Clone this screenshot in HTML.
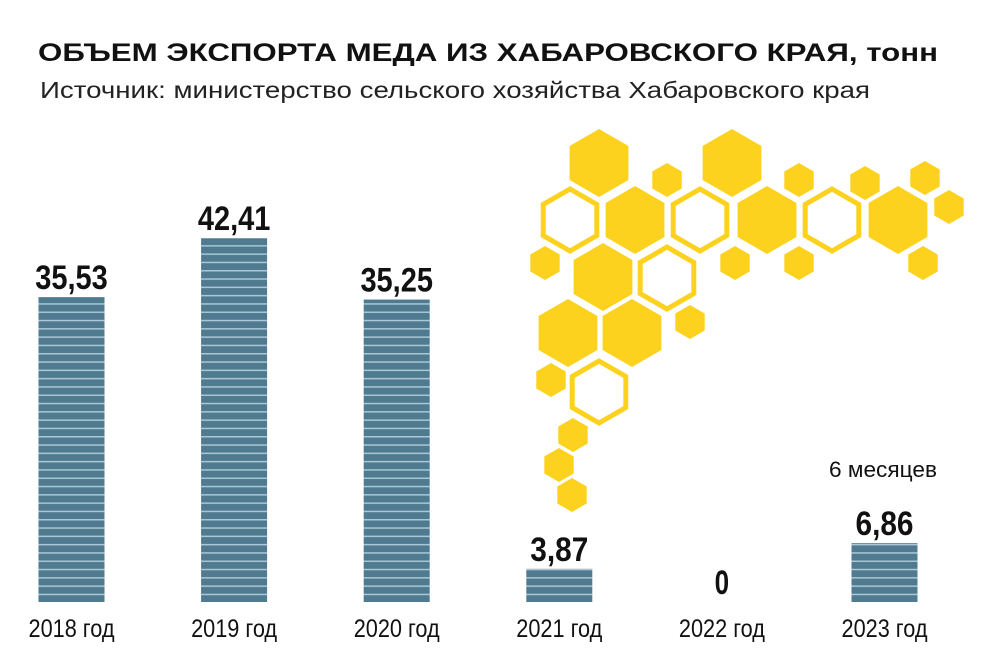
<!DOCTYPE html>
<html><head><meta charset="utf-8"><style>
html,body{margin:0;padding:0;background:#fff;}
svg{display:block;font-family:"Liberation Sans",sans-serif;}
</style></head><body>
<svg id="chart" width="1000" height="667" viewBox="0 0 1000 667" xmlns="http://www.w3.org/2000/svg">
<defs>
<pattern id="stripes" patternUnits="userSpaceOnUse" width="10" height="8.3" y="602">
<rect width="10" height="8.3" fill="#4f7a8f"/>
<rect y="0" width="10" height="1.5" fill="#a9c7d6"/>
</pattern>
</defs>
<text x="38" y="61" font-size="25" font-weight="bold" fill="#111" textLength="900" lengthAdjust="spacingAndGlyphs">ОБЪЕМ ЭКСПОРТА МЕДА ИЗ ХАБАРОВСКОГО КРАЯ, тонн</text>
<text x="40" y="98" font-size="23" fill="#222" textLength="830" lengthAdjust="spacingAndGlyphs">Источник: министерство сельского хозяйства Хабаровского края</text>
<g id="hexes"></g>
<g id="bars"></g>
<text x="883" y="477" font-size="22" fill="#111" text-anchor="middle" textLength="108" lengthAdjust="spacingAndGlyphs">6 месяцев</text>
</svg>
<script>
const categories = ["2018 год","2019 год","2020 год","2021 год","2022 год","2023 год"];
const values = [35.53, 42.41, 35.25, 3.87, 0, 6.86];
const valueLabels = ["35,53","42,41","35,25","3,87","0","6,86"];

const NS = "http://www.w3.org/2000/svg";
const baseY = 602, pxPerUnit = 8.58, barW = 66;
function xCenter(i){ return 71.5 + i*162.6; }
function yScale(v){ return baseY - v*pxPerUnit; }
function mk(tag, attrs, parent){
  const e = document.createElementNS(NS, tag);
  for (const k in attrs) e.setAttribute(k, attrs[k]);
  parent.appendChild(e); return e;
}
const bars = document.getElementById('bars');
values.forEach((v,i)=>{
  const cx = xCenter(i), top = yScale(v);
  if (v > 0) {
    const r = mk('rect', {x: cx-barW/2, y: top, width: barW, height: baseY-top, fill: 'url(#stripes)'}, bars);
    
    
  }
  const t = mk('text', {x: cx, y: top-8, 'font-size': 34, 'font-weight': 'bold', 'text-anchor': 'middle', fill: '#111', textLength: valueLabels[i].length*14.5, lengthAdjust: 'spacingAndGlyphs'}, bars);
  t.textContent = valueLabels[i];
  
  
  const c = mk('text', {x: cx, y: 637, 'font-size': 25, 'text-anchor': 'middle', fill: '#111', textLength: 86, lengthAdjust: 'spacingAndGlyphs'}, bars);
  c.textContent = categories[i];
  
  
});

// decorative honeycomb
const hexG = document.getElementById('hexes');
const Y = '#fcd21f';
const big = [[599,163,1],[732,163,1],[570,220,0],[635,220,1],[700,220,0],[767,220,1],[832,220,0],[898,220,1],[603,277,1],[667,278,0],[568,333,1],[632,333,1],[599,392,0]];
const small = [[667,180],[799,180],[865,183],[925,178],[949,207],[545,263],[735,263],[799,263],[923,263],[690,322],[551,380],[573,435],[559,465],[572,495]];
function hexPts(cx,cy,r){
  let p=[]; for(let k=0;k<6;k++){const a=Math.PI/180*(60*k-90); p.push((cx+r*Math.cos(a)).toFixed(1)+','+(cy+r*Math.sin(a)).toFixed(1));}
  return p.join(' ');
}
big.forEach(h=>{
  const filled = h[2]===1;
  const e = mk('polygon', {points: hexPts(h[0],h[1], filled?34:31), fill: filled?Y:'none', stroke: filled?'none':Y, 'stroke-width': 5}, hexG);
  
  
});
small.forEach(h=>{
  const e = mk('polygon', {points: hexPts(h[0],h[1],17), fill: Y}, hexG);
  
  
});
</script>
</body></html>
